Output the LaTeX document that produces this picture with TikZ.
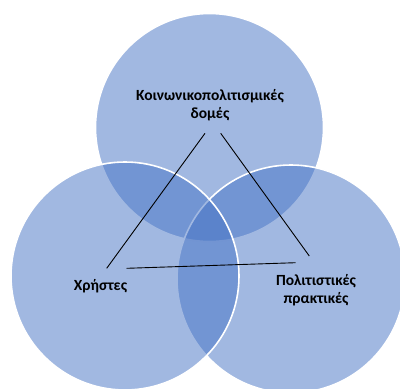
\documentclass[tikz,border=0pt]{standalone}
\usepackage{fontspec}
\setmainfont{Carlito}
\definecolor{accentblue}{HTML}{4472C4}
\begin{document}
\begin{tikzpicture}[x=1pt,y=-1pt,
  venn/.style={circle,draw=white,line width=1.6pt,fill=accentblue,fill opacity=0.5,minimum size=228pt,inner sep=0pt,outer sep=0pt},
  lbl/.style={font=\fontsize{15.5}{17.5}\selectfont\bfseries,align=center,text=black,inner sep=0pt},
  link/.style={black,line width=0.9pt}]
\useasboundingbox (0,0) rectangle (400,389);
\node[venn] (ctop) at (209.5,127.5) {};
\node[venn] (cright) at (291,279) {};
\node[venn] (cleft) at (125,276) {};
\node[lbl] (ltop) at (210,105) {Κοινωνικοπολιτισμικές\\δομές};
\node[lbl] (lleft) at (100.5,286) {Χρήστες};
\node[lbl] (lright) at (316,290) {Πολιτιστικές\\πρακτικές};
\coordinate (a1) at (205,133.3);
\coordinate (a2) at (106.7,268.3);
\coordinate (b1) at (220.7,133.3);
\coordinate (b2) at (309.3,256);
\coordinate (c1) at (126.7,268.3);
\coordinate (c2) at (295.7,262.7);
\draw[link] (a1) -- (a2);
\draw[link] (b1) -- (b2);
\draw[link] (c1) -- (c2);
\end{tikzpicture}
\end{document}
